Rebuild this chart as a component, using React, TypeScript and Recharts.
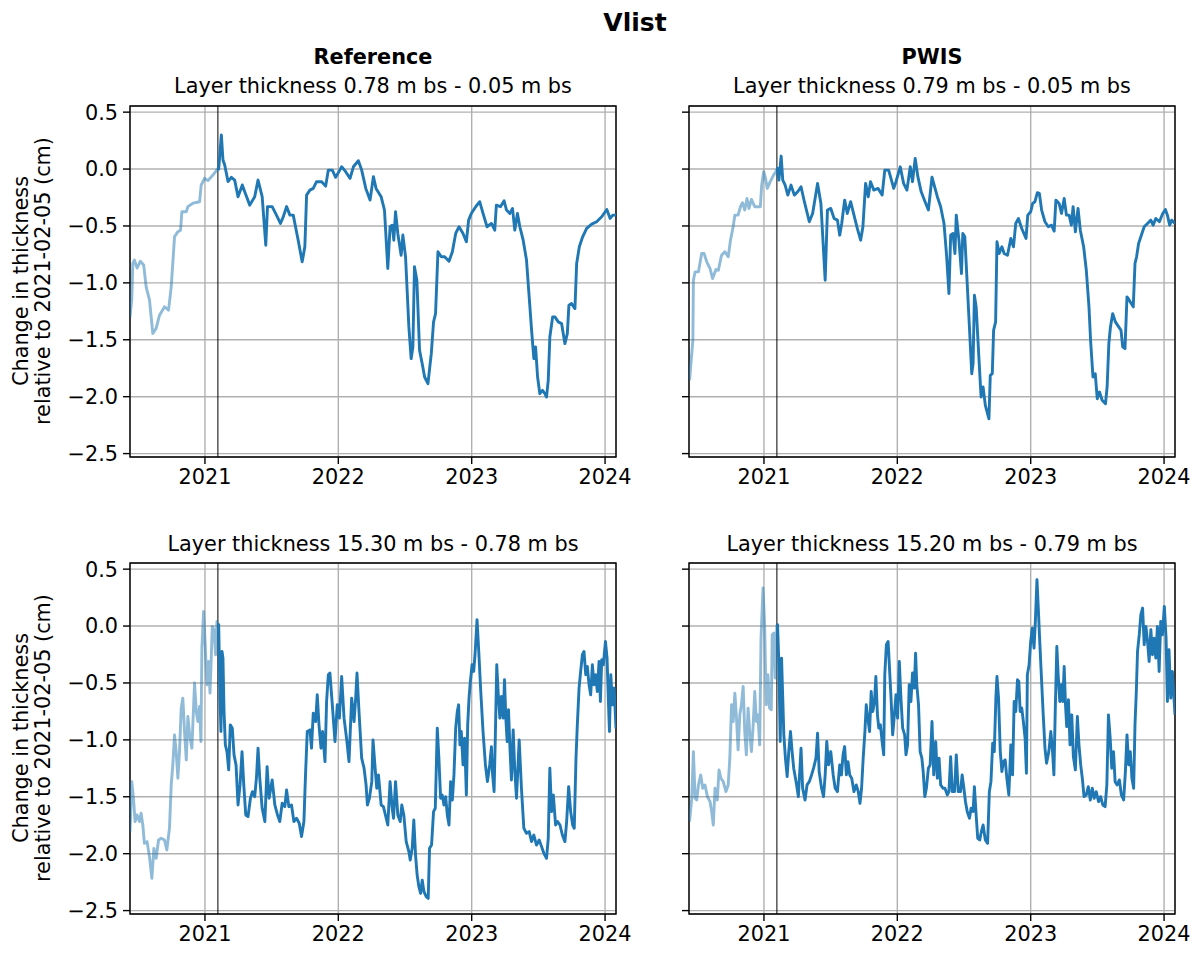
import React from "react";
import {
  LineChart,
  Line,
  XAxis,
  YAxis,
  CartesianGrid,
  ReferenceLine,
  ReferenceArea,
} from "recharts";

// x = decimal year, y = change in thickness (cm)
const X_DOMAIN: [number, number] = [2020.438, 2024.082];
const Y_DOMAIN: [number, number] = [-2.53, 0.554];
const xTicks = [2021, 2022, 2023, 2024];
const yTicks = [0.5, 0, -0.5, -1, -1.5, -2, -2.5];
const splitDate = 2021.097; // 2021-02-05

const refUpperEarly: [number, number][] = [
  [2020.438, -1.3], [2020.451, -1.15], [2020.459, -0.83], [2020.471, -0.8], [2020.491, -0.87],
  [2020.516, -0.81], [2020.541, -0.845], [2020.559, -1.035], [2020.584, -1.15], [2020.609, -1.445],
  [2020.634, -1.4], [2020.659, -1.285], [2020.697, -1.21], [2020.727, -1.24], [2020.747, -1.035],
  [2020.772, -0.595], [2020.797, -0.55], [2020.817, -0.537], [2020.827, -0.375], [2020.86, -0.375],
  [2020.872, -0.33], [2020.91, -0.3], [2020.96, -0.287], [2020.972, -0.14], [2020.997, -0.082],
  [2021.023, -0.1], [2021.06, -0.053], [2021.098, 0.006],
];

const refUpperLate: [number, number][] = [
  [2021.098, 0.006], [2021.103, 0.0], [2021.123, 0.3], [2021.135, 0.08], [2021.148, 0.035],
  [2021.173, -0.11], [2021.198, -0.073], [2021.223, -0.097], [2021.248, -0.243], [2021.28, -0.14],
  [2021.303, -0.214], [2021.336, -0.317], [2021.373, -0.243], [2021.398, -0.097], [2021.429, -0.243],
  [2021.456, -0.669], [2021.469, -0.33], [2021.504, -0.33], [2021.536, -0.405], [2021.566, -0.478],
  [2021.587, -0.42], [2021.612, -0.33], [2021.637, -0.405], [2021.662, -0.405], [2021.699, -0.625],
  [2021.729, -0.815], [2021.749, -0.683], [2021.762, -0.229], [2021.787, -0.185], [2021.812, -0.17],
  [2021.837, -0.111], [2021.875, -0.111], [2021.905, -0.15], [2021.925, -0.009], [2021.955, -0.009],
  [2021.98, -0.073], [2022.025, 0.02], [2022.055, -0.023], [2022.088, -0.082], [2022.113, 0.02],
  [2022.15, 0.073], [2022.175, -0.009], [2022.206, -0.17], [2022.238, -0.273], [2022.263, -0.067],
  [2022.283, -0.17], [2022.321, -0.243], [2022.346, -0.36], [2022.371, -0.874], [2022.388, -0.507],
  [2022.404, -0.493], [2022.416, -0.625], [2022.429, -0.375], [2022.446, -0.566], [2022.471, -0.757],
  [2022.484, -0.58], [2022.504, -0.771], [2022.529, -1.387], [2022.546, -1.666], [2022.559, -1.563],
  [2022.571, -0.859], [2022.589, -0.977], [2022.609, -1.592], [2022.629, -1.71], [2022.647, -1.827],
  [2022.672, -1.886], [2022.697, -1.622], [2022.714, -1.343], [2022.729, -1.27], [2022.747, -0.727],
  [2022.772, -0.771], [2022.797, -0.771], [2022.83, -0.81], [2022.855, -0.727], [2022.88, -0.566],
  [2022.905, -0.507], [2022.935, -0.566], [2022.96, -0.639], [2022.977, -0.449], [2022.997, -0.39],
  [2023.03, -0.331], [2023.06, -0.287], [2023.085, -0.39], [2023.115, -0.507], [2023.148, -0.478],
  [2023.173, -0.537], [2023.185, -0.317], [2023.216, -0.331], [2023.243, -0.279], [2023.261, -0.36],
  [2023.286, -0.39], [2023.306, -0.346], [2023.323, -0.537], [2023.343, -0.39], [2023.361, -0.507],
  [2023.386, -0.625], [2023.411, -0.8], [2023.431, -1.123], [2023.449, -1.416], [2023.466, -1.666],
  [2023.479, -1.563], [2023.494, -1.827], [2023.511, -1.974], [2023.531, -1.944], [2023.549, -1.974],
  [2023.561, -2.003], [2023.574, -1.856], [2023.586, -1.475], [2023.607, -1.299], [2023.624, -1.299],
  [2023.649, -1.343], [2023.674, -1.358], [2023.699, -1.534], [2023.717, -1.446], [2023.729, -1.196],
  [2023.749, -1.182], [2023.774, -1.226], [2023.787, -0.83], [2023.807, -0.683], [2023.832, -0.595],
  [2023.862, -0.522], [2023.9, -0.484], [2023.937, -0.463], [2023.975, -0.419], [2024.013, -0.355],
  [2024.038, -0.434], [2024.058, -0.405], [2024.082, -0.405],
];

const pwisUpperEarly: [number, number][] = [
  [2020.442, -1.856], [2020.467, -1.504], [2020.471, -0.977], [2020.484, -0.903], [2020.509, -0.903],
  [2020.533, -0.742], [2020.551, -0.742], [2020.571, -0.815], [2020.596, -0.874], [2020.615, -0.962],
  [2020.64, -0.883], [2020.658, -0.889], [2020.682, -0.757], [2020.707, -0.727], [2020.732, -0.771],
  [2020.749, -0.625], [2020.769, -0.507], [2020.782, -0.405], [2020.806, -0.405], [2020.824, -0.331],
  [2020.839, -0.296], [2020.856, -0.36], [2020.873, -0.258], [2020.888, -0.346], [2020.906, -0.267],
  [2020.931, -0.331], [2020.973, -0.331], [2020.983, -0.141], [2020.998, -0.023], [2021.012, -0.082],
  [2021.025, -0.17], [2021.047, -0.111], [2021.072, -0.053], [2021.097, -0.009],
];

const pwisUpperLate: [number, number][] = [
  [2021.097, -0.009], [2021.102, 0.006], [2021.112, -0.097], [2021.129, 0.114], [2021.141, -0.097],
  [2021.159, -0.141], [2021.179, -0.229], [2021.203, -0.141], [2021.228, -0.229], [2021.253, -0.2],
  [2021.278, -0.155], [2021.303, -0.287], [2021.34, -0.463], [2021.365, -0.39], [2021.402, -0.126],
  [2021.427, -0.302], [2021.459, -0.977], [2021.476, -0.36], [2021.501, -0.346], [2021.526, -0.434],
  [2021.551, -0.449], [2021.568, -0.581], [2021.583, -0.478], [2021.605, -0.273], [2021.625, -0.39],
  [2021.65, -0.287], [2021.675, -0.405], [2021.7, -0.522], [2021.725, -0.625], [2021.742, -0.507],
  [2021.762, -0.126], [2021.782, -0.243], [2021.799, -0.111], [2021.824, -0.185], [2021.856, -0.17],
  [2021.886, -0.229], [2021.906, -0.009], [2021.935, -0.009], [2021.973, -0.17], [2021.99, -0.111],
  [2022.022, 0.02], [2022.047, -0.126], [2022.072, -0.185], [2022.097, 0.02], [2022.114, -0.111],
  [2022.134, 0.094], [2022.154, -0.067], [2022.179, -0.2], [2022.208, -0.287], [2022.233, -0.36],
  [2022.26, -0.072], [2022.3, -0.243], [2022.325, -0.331], [2022.35, -0.478], [2022.37, -0.771],
  [2022.387, -1.094], [2022.4, -0.581], [2022.417, -0.566], [2022.432, -0.742], [2022.442, -0.405],
  [2022.462, -0.625], [2022.481, -0.918], [2022.491, -0.566], [2022.506, -0.595], [2022.524, -1.006],
  [2022.543, -1.446], [2022.558, -1.798], [2022.568, -1.71], [2022.578, -1.108], [2022.591, -1.211],
  [2022.61, -1.622], [2022.628, -2.003], [2022.643, -1.915], [2022.66, -2.076], [2022.677, -2.15],
  [2022.687, -2.194], [2022.697, -1.812], [2022.712, -1.798], [2022.722, -1.416], [2022.737, -1.343],
  [2022.747, -0.639], [2022.764, -0.742], [2022.784, -0.683], [2022.801, -0.742], [2022.826, -0.757],
  [2022.851, -0.61], [2022.871, -0.683], [2022.888, -0.478], [2022.908, -0.434], [2022.933, -0.522],
  [2022.965, -0.61], [2022.978, -0.405], [2023.0, -0.375], [2023.015, -0.302], [2023.032, -0.287],
  [2023.05, -0.208], [2023.065, -0.214], [2023.082, -0.36], [2023.107, -0.463], [2023.132, -0.507],
  [2023.156, -0.493], [2023.176, -0.545], [2023.189, -0.273], [2023.213, -0.302], [2023.231, -0.39],
  [2023.251, -0.258], [2023.268, -0.405], [2023.288, -0.405], [2023.305, -0.493], [2023.318, -0.331],
  [2023.335, -0.551], [2023.355, -0.346], [2023.372, -0.537], [2023.397, -0.683], [2023.417, -0.889],
  [2023.437, -1.211], [2023.449, -1.504], [2023.467, -1.827], [2023.484, -1.798], [2023.499, -2.018],
  [2023.516, -1.959], [2023.536, -2.032], [2023.561, -2.062], [2023.573, -1.915], [2023.586, -1.534],
  [2023.598, -1.387], [2023.615, -1.27], [2023.635, -1.343], [2023.66, -1.387], [2023.677, -1.416],
  [2023.69, -1.563], [2023.707, -1.578], [2023.722, -1.123], [2023.739, -1.152], [2023.769, -1.211],
  [2023.782, -0.83], [2023.794, -0.771], [2023.809, -0.654], [2023.826, -0.595], [2023.851, -0.507],
  [2023.876, -0.478], [2023.901, -0.449], [2023.918, -0.493], [2023.938, -0.434], [2023.965, -0.463],
  [2023.99, -0.39], [2024.01, -0.355], [2024.025, -0.405], [2024.042, -0.493], [2024.057, -0.449],
  [2024.082, -0.478],
];

const refLowerEarly: [number, number][] = [
  [2020.438, -1.806], [2020.451, -1.367], [2020.464, -1.513], [2020.476, -1.718], [2020.491, -1.66],
  [2020.509, -1.718], [2020.521, -1.645], [2020.534, -1.748], [2020.546, -1.909], [2020.566, -1.894],
  [2020.584, -2.026], [2020.602, -2.217], [2020.617, -1.953], [2020.634, -2.041], [2020.652, -1.88],
  [2020.672, -1.865], [2020.697, -1.88], [2020.714, -1.968], [2020.734, -1.777], [2020.747, -1.396],
  [2020.759, -1.22], [2020.772, -0.956], [2020.784, -1.103], [2020.797, -1.337], [2020.809, -1.103],
  [2020.822, -0.721], [2020.834, -0.633], [2020.847, -0.927], [2020.86, -1.176], [2020.872, -0.795],
  [2020.885, -0.956], [2020.902, -1.073], [2020.922, -0.501], [2020.935, -0.751], [2020.947, -0.839],
  [2020.96, -0.707], [2020.97, -1.015], [2020.977, -0.194], [2020.99, 0.129], [2021.003, -0.194],
  [2021.015, -0.516], [2021.028, -0.311], [2021.038, -0.589], [2021.048, -0.252], [2021.055, -0.003],
  [2021.068, -0.032], [2021.08, -0.252], [2021.09, 0.041], [2021.098, -0.003],
];

const refLowerLate: [number, number][] = [
  [2021.098, -0.003], [2021.103, 0.012], [2021.113, -0.633], [2021.12, -0.927], [2021.128, -0.223],
  [2021.135, -0.282], [2021.143, -0.751], [2021.153, -1.044], [2021.165, -1.103], [2021.178, -1.264],
  [2021.19, -0.868], [2021.205, -0.897], [2021.218, -1.132], [2021.233, -1.22], [2021.248, -1.572],
  [2021.263, -1.396], [2021.278, -1.103], [2021.291, -1.396], [2021.306, -1.66], [2021.323, -1.674],
  [2021.341, -1.513], [2021.356, -1.455], [2021.373, -1.499], [2021.386, -1.337], [2021.398, -1.073],
  [2021.411, -1.337], [2021.429, -1.601], [2021.449, -1.718], [2021.466, -1.235], [2021.481, -1.513],
  [2021.504, -1.352], [2021.524, -1.572], [2021.544, -1.66], [2021.561, -1.718], [2021.579, -1.557],
  [2021.599, -1.587], [2021.612, -1.44], [2021.629, -1.587], [2021.649, -1.572], [2021.667, -1.718],
  [2021.687, -1.689], [2021.707, -1.733], [2021.724, -1.85], [2021.742, -1.718], [2021.754, -1.308],
  [2021.767, -0.927], [2021.787, -0.912], [2021.799, -1.073], [2021.812, -0.765], [2021.83, -0.839],
  [2021.842, -0.604], [2021.855, -0.868], [2021.87, -1.073], [2021.882, -0.927], [2021.9, -1.191],
  [2021.912, -0.663], [2021.925, -0.428], [2021.937, -0.413], [2021.955, -0.692], [2021.975, -1.015],
  [2021.992, -0.692], [2022.008, -0.809], [2022.025, -0.443], [2022.043, -0.809], [2022.063, -1.0],
  [2022.08, -1.191], [2022.1, -0.633], [2022.118, -0.839], [2022.13, -0.633], [2022.14, -0.413],
  [2022.155, -0.751], [2022.175, -1.161], [2022.193, -1.249], [2022.208, -1.396], [2022.218, -1.572],
  [2022.233, -1.513], [2022.251, -1.367], [2022.26, -1.0], [2022.278, -1.279], [2022.288, -1.425],
  [2022.301, -1.308], [2022.321, -1.572], [2022.338, -1.587], [2022.353, -1.66], [2022.371, -1.748],
  [2022.388, -1.367], [2022.404, -1.601], [2022.414, -1.689], [2022.429, -1.367], [2022.446, -1.66],
  [2022.464, -1.718], [2022.476, -1.572], [2022.491, -1.66], [2022.509, -1.894], [2022.529, -1.982],
  [2022.539, -2.056], [2022.554, -1.953], [2022.566, -1.704], [2022.579, -2.012], [2022.591, -2.188],
  [2022.604, -2.29], [2022.617, -2.349], [2022.629, -2.232], [2022.642, -2.334], [2022.659, -2.378],
  [2022.674, -2.393], [2022.684, -1.953], [2022.699, -1.924], [2022.714, -1.63], [2022.727, -1.601],
  [2022.742, -0.897], [2022.754, -1.161], [2022.767, -1.513], [2022.779, -1.484], [2022.792, -1.572],
  [2022.805, -1.499], [2022.817, -1.66], [2022.83, -1.748], [2022.842, -1.367], [2022.855, -1.528],
  [2022.867, -1.308], [2022.88, -0.897], [2022.892, -0.751], [2022.902, -0.692], [2022.912, -1.044],
  [2022.922, -0.927], [2022.935, -1.22], [2022.947, -0.985], [2022.96, -1.484], [2022.97, -0.868],
  [2022.98, -0.633], [2022.99, -0.487], [2023.003, -0.34], [2023.015, -0.399], [2023.025, -0.252],
  [2023.04, 0.056], [2023.053, -0.223], [2023.068, -0.575], [2023.085, -0.927], [2023.103, -1.22],
  [2023.118, -1.367], [2023.135, -1.22], [2023.148, -1.059], [2023.155, -1.279], [2023.168, -1.455],
  [2023.178, -0.927], [2023.188, -0.34], [2023.198, -0.575], [2023.211, -0.809], [2023.223, -0.619],
  [2023.236, -0.809], [2023.246, -0.472], [2023.256, -0.809], [2023.266, -1.015], [2023.276, -0.736],
  [2023.288, -1.103], [2023.298, -1.352], [2023.311, -0.912], [2023.323, -1.264], [2023.336, -1.513],
  [2023.356, -1.0], [2023.373, -1.425], [2023.391, -1.777], [2023.411, -1.821], [2023.431, -1.806],
  [2023.449, -1.894], [2023.466, -1.836], [2023.486, -1.924], [2023.506, -1.88], [2023.524, -1.938],
  [2023.541, -1.997], [2023.561, -2.041], [2023.574, -1.865], [2023.586, -1.249], [2023.599, -1.63],
  [2023.612, -1.484], [2023.629, -1.748], [2023.644, -1.718], [2023.662, -1.748], [2023.68, -1.836],
  [2023.699, -1.894], [2023.712, -1.718], [2023.727, -1.411], [2023.742, -1.63], [2023.757, -1.748],
  [2023.769, -1.777], [2023.782, -1.161], [2023.792, -0.868], [2023.805, -0.545], [2023.817, -0.399],
  [2023.83, -0.252], [2023.842, -0.223], [2023.855, -0.428], [2023.867, -0.355], [2023.88, -0.516],
  [2023.892, -0.604], [2023.905, -0.34], [2023.917, -0.516], [2023.93, -0.428], [2023.942, -0.575],
  [2023.955, -0.311], [2023.965, -0.663], [2023.975, -0.296], [2023.987, -0.34], [2024.003, -0.135],
  [2024.015, -0.282], [2024.025, -0.663], [2024.033, -0.927], [2024.043, -0.428], [2024.055, -0.692],
  [2024.068, -0.545], [2024.082, -0.897],
];

const pwisLowerEarly: [number, number][] = [
  [2020.442, -1.718], [2020.459, -1.513], [2020.471, -1.103], [2020.484, -1.513], [2020.496, -1.528],
  [2020.509, -1.396], [2020.526, -1.308], [2020.541, -1.425], [2020.558, -1.396], [2020.576, -1.499],
  [2020.596, -1.543], [2020.608, -1.63], [2020.62, -1.748], [2020.633, -1.425], [2020.65, -1.528],
  [2020.663, -1.264], [2020.677, -1.337], [2020.695, -1.367], [2020.715, -1.455], [2020.732, -1.396],
  [2020.744, -1.161], [2020.757, -0.692], [2020.769, -0.839], [2020.782, -0.589], [2020.794, -0.809],
  [2020.806, -1.088], [2020.819, -0.78], [2020.831, -0.692], [2020.844, -0.531], [2020.856, -0.927],
  [2020.868, -1.132], [2020.881, -0.721], [2020.893, -0.927], [2020.906, -1.103], [2020.918, -0.897],
  [2020.931, -0.575], [2020.943, -0.839], [2020.955, -0.78], [2020.968, -1.044], [2020.978, -0.106],
  [2020.993, 0.334], [2021.005, 0.012], [2021.017, -0.692], [2021.03, -0.428], [2021.042, -0.721],
  [2021.055, -0.736], [2021.062, -0.076], [2021.074, -0.062], [2021.084, -0.457], [2021.097, 0.012],
];

const pwisLowerLate: [number, number][] = [
  [2021.097, 0.012], [2021.102, 0.012], [2021.112, -0.34], [2021.122, -1.015], [2021.132, -0.282],
  [2021.141, -0.633], [2021.149, -0.956], [2021.161, -1.161], [2021.174, -1.323], [2021.186, -1.103],
  [2021.199, -0.927], [2021.211, -1.103], [2021.223, -1.249], [2021.241, -1.367], [2021.258, -1.499],
  [2021.278, -1.073], [2021.29, -1.425], [2021.308, -1.528], [2021.323, -1.396], [2021.34, -1.367],
  [2021.357, -1.308], [2021.372, -1.249], [2021.39, -1.161], [2021.402, -0.941], [2021.414, -1.279],
  [2021.432, -1.425], [2021.447, -1.499], [2021.459, -1.308], [2021.471, -1.015], [2021.484, -1.22],
  [2021.501, -1.103], [2021.519, -1.308], [2021.534, -1.425], [2021.551, -1.455], [2021.568, -1.22],
  [2021.581, -1.308], [2021.593, -1.132], [2021.605, -1.059], [2021.618, -1.308], [2021.63, -1.191],
  [2021.643, -1.308], [2021.658, -1.337], [2021.675, -1.455], [2021.692, -1.396], [2021.707, -1.455],
  [2021.72, -1.557], [2021.732, -1.425], [2021.744, -1.161], [2021.757, -0.927], [2021.767, -0.692],
  [2021.779, -0.809], [2021.792, -0.927], [2021.804, -0.575], [2021.816, -0.751], [2021.829, -0.663],
  [2021.839, -0.443], [2021.851, -0.78], [2021.861, -0.897], [2021.873, -0.868], [2021.886, -1.015],
  [2021.898, -1.132], [2021.906, -0.428], [2021.918, -0.164], [2021.931, -0.135], [2021.94, -0.34],
  [2021.953, -0.633], [2021.965, -0.956], [2021.978, -0.78], [2021.99, -0.604], [2022.002, -0.809],
  [2022.015, -0.311], [2022.027, -0.633], [2022.04, -0.897], [2022.055, -0.956], [2022.065, -1.132],
  [2022.077, -1.044], [2022.089, -0.516], [2022.102, -0.663], [2022.114, -0.413], [2022.127, -0.545],
  [2022.137, -0.238], [2022.146, -0.516], [2022.159, -0.692], [2022.171, -1.103], [2022.184, -1.161],
  [2022.194, -1.279], [2022.206, -1.499], [2022.218, -1.425], [2022.233, -1.249], [2022.246, -1.22],
  [2022.26, -0.839], [2022.273, -1.308], [2022.288, -1.015], [2022.3, -1.337], [2022.313, -1.161],
  [2022.325, -1.396], [2022.342, -1.425], [2022.357, -1.425], [2022.375, -1.484], [2022.387, -1.455],
  [2022.4, -1.147], [2022.412, -1.455], [2022.429, -1.455], [2022.442, -1.132], [2022.457, -1.455],
  [2022.474, -1.455], [2022.486, -1.308], [2022.499, -1.425], [2022.511, -1.543], [2022.524, -1.63],
  [2022.541, -1.689], [2022.553, -1.601], [2022.568, -1.63], [2022.578, -1.411], [2022.591, -1.66],
  [2022.603, -1.865], [2022.618, -1.88], [2022.63, -1.806], [2022.643, -1.748], [2022.66, -1.88],
  [2022.677, -1.909], [2022.69, -1.455], [2022.702, -1.367], [2022.715, -1.029], [2022.727, -1.103],
  [2022.739, -0.633], [2022.747, -0.443], [2022.759, -0.633], [2022.772, -1.103], [2022.784, -1.279],
  [2022.796, -1.191], [2022.809, -1.176], [2022.821, -1.337], [2022.836, -1.484], [2022.851, -1.044],
  [2022.864, -1.308], [2022.876, -0.663], [2022.888, -0.751], [2022.901, -0.472], [2022.911, -0.487],
  [2022.921, -0.751], [2022.933, -0.721], [2022.945, -0.839], [2022.958, -0.985], [2022.968, -1.293],
  [2022.975, -0.428], [2022.988, -0.34], [2023.0, -0.135], [2023.012, -0.018], [2023.025, -0.194],
  [2023.035, 0.041], [2023.047, 0.408], [2023.057, 0.158], [2023.069, -0.164], [2023.082, -0.487],
  [2023.094, -0.78], [2023.107, -1.073], [2023.119, -1.205], [2023.136, -1.103], [2023.151, -0.927],
  [2023.164, -1.103], [2023.174, -1.308], [2023.184, -0.751], [2023.196, -0.179], [2023.206, -0.428],
  [2023.218, -0.663], [2023.231, -0.516], [2023.241, -0.663], [2023.251, -0.355], [2023.261, -0.692],
  [2023.27, -0.883], [2023.283, -0.648], [2023.295, -1.044], [2023.308, -0.78], [2023.32, -1.147],
  [2023.335, -1.264], [2023.35, -0.795], [2023.362, -1.044], [2023.375, -1.22], [2023.387, -1.337],
  [2023.4, -1.499], [2023.417, -1.484], [2023.432, -1.411], [2023.447, -1.528], [2023.462, -1.425],
  [2023.476, -1.513], [2023.491, -1.455], [2023.509, -1.543], [2023.524, -1.499], [2023.541, -1.572],
  [2023.558, -1.587], [2023.571, -1.396], [2023.583, -0.78], [2023.596, -0.985], [2023.608, -1.249],
  [2023.621, -1.103], [2023.633, -1.367], [2023.648, -1.396], [2023.665, -1.352], [2023.68, -1.484],
  [2023.697, -1.528], [2023.71, -1.279], [2023.722, -0.956], [2023.735, -1.22], [2023.747, -1.103],
  [2023.759, -1.337], [2023.772, -1.425], [2023.782, -0.868], [2023.792, -0.575], [2023.801, -0.223],
  [2023.814, -0.076], [2023.826, 0.1], [2023.839, 0.158], [2023.851, -0.164], [2023.864, -0.003],
  [2023.876, -0.135], [2023.888, -0.311], [2023.901, -0.032], [2023.913, -0.252], [2023.925, -0.106],
  [2023.938, -0.282], [2023.95, -0.003], [2023.963, -0.399], [2023.975, 0.041], [2023.988, -0.076],
  [2024.002, 0.173], [2024.015, -0.106], [2024.025, -0.663], [2024.037, -0.208], [2024.05, -0.633],
  [2024.062, -0.399], [2024.082, -0.78],
];

const FONT = "'DejaVu Sans', sans-serif";
const FS = 20.8;
const BLUE = "#1f77b4";

const toRows = (pts: [number, number][]) => pts.map(([t, v]) => ({ t, v }));
const fmtY = (v: number) => (v < 0 ? "\u2212" : "") + Math.abs(v).toFixed(1);

type PanelProps = {
  early: [number, number][];
  late: [number, number][];
  left: number;
  top: number;
  yLabels: boolean;
};

function Panel({ early, late, left, top, yLabels }: PanelProps) {
  const PW = 486, PH = 351, YW = 80, XH = 44, MT = 10, MR = 30;
  const tickStyle = { fill: "#000", fontSize: FS, fontFamily: FONT };
  const noLabel = () => <g />;
  return (
    <div style={{ position: "absolute", left: left - YW, top: top - MT }}>
      <LineChart
        width={YW + PW + MR}
        height={MT + PH + XH}
        margin={{ top: MT, right: MR, bottom: 0, left: 0 }}
      >
        <CartesianGrid stroke="#b0b0b0" strokeWidth={1.4} />
        <XAxis
          type="number"
          dataKey="t"
          domain={X_DOMAIN}
          ticks={xTicks}
          interval={0}
          allowDataOverflow
          height={XH}
          axisLine={false}
          tickSize={7}
          tickMargin={5}
          tickLine={{ stroke: "#000", strokeWidth: 1.4 }}
          tick={tickStyle}
          tickFormatter={(v: number) => String(v)}
        />
        <YAxis
          type="number"
          domain={Y_DOMAIN}
          ticks={yTicks}
          interval={0}
          allowDataOverflow
          width={YW}
          axisLine={false}
          tickSize={7}
          tickMargin={5}
          tickLine={{ stroke: "#000", strokeWidth: 1.4 }}
          tick={yLabels ? tickStyle : noLabel}
          tickFormatter={fmtY}
        />
        <ReferenceLine x={splitDate} stroke="#000" strokeWidth={1} />
        <Line
          data={toRows(early)}
          dataKey="v"
          type="linear"
          stroke={BLUE}
          strokeOpacity={0.5}
          strokeWidth={2.9}
          strokeLinejoin="round"
          dot={false}
          isAnimationActive={false}
        />
        <Line
          data={toRows(late)}
          dataKey="v"
          type="linear"
          stroke={BLUE}
          strokeWidth={2.9}
          strokeLinejoin="round"
          dot={false}
          isAnimationActive={false}
        />
        <ReferenceArea
          x1={X_DOMAIN[0]}
          x2={X_DOMAIN[1]}
          y1={Y_DOMAIN[0]}
          y2={Y_DOMAIN[1]}
          fill="none"
          fillOpacity={0}
          stroke="#000"
          strokeWidth={1.4}
        />
      </LineChart>
    </div>
  );
}

const centered = (x: number, y: number, extra: React.CSSProperties = {}): React.CSSProperties => ({
  position: "absolute",
  left: x,
  top: y,
  transform: "translate(-50%, -50%)",
  whiteSpace: "nowrap",
  fontFamily: FONT,
  fontSize: FS,
  color: "#000",
  ...extra,
});

function YLabel({ cy }: { cy: number }) {
  return (
    <div
      style={centered(32, cy, {
        transform: "translate(-50%, -50%) rotate(-90deg)",
        textAlign: "center",
        lineHeight: "22px",
      })}
    >
      Change in thickness
      <br />
      relative to 2021-02-05 (cm)
    </div>
  );
}

export default function App() {
  return (
    <div
      style={{
        position: "absolute",
        left: 0,
        top: 0,
        width: 1202,
        height: 958,
        background: "#fff",
        fontFamily: FONT,
      }}
    >
      <div style={centered(635, 22, { fontSize: 25, fontWeight: "bold" })}>Vlist</div>
      <div style={centered(373, 57, { fontWeight: "bold" })}>Reference</div>
      <div style={centered(932, 57, { fontWeight: "bold" })}>PWIS</div>
      <div style={centered(373, 86)}>Layer thickness 0.78 m bs - 0.05 m bs</div>
      <div style={centered(932, 86)}>Layer thickness 0.79 m bs - 0.05 m bs</div>
      <div style={centered(373, 544)}>Layer thickness 15.30 m bs - 0.78 m bs</div>
      <div style={centered(932, 544)}>Layer thickness 15.20 m bs - 0.79 m bs</div>

      <Panel early={refUpperEarly} late={refUpperLate} left={130} top={106} yLabels />
      <Panel early={pwisUpperEarly} late={pwisUpperLate} left={689} top={106} yLabels={false} />
      <Panel early={refLowerEarly} late={refLowerLate} left={130} top={563} yLabels />
      <Panel early={pwisLowerEarly} late={pwisLowerLate} left={689} top={563} yLabels={false} />

      <YLabel cy={281} />
      <YLabel cy={738} />
    </div>
  );
}
